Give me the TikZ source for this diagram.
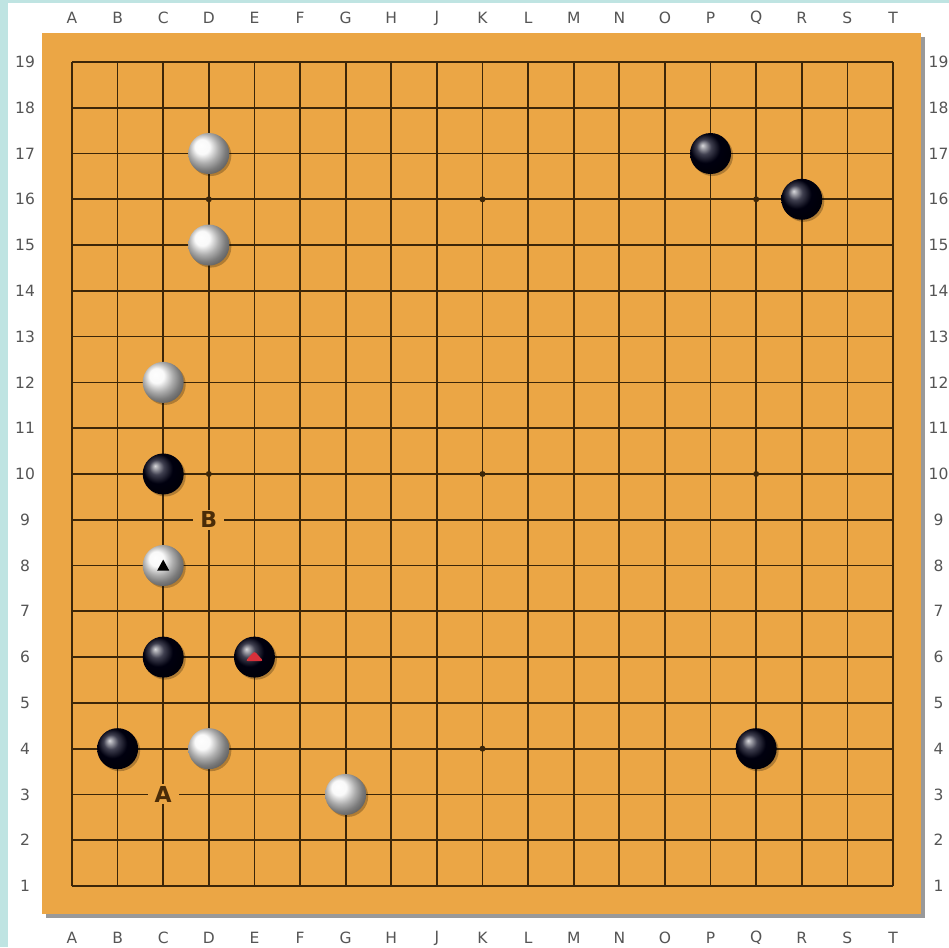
\documentclass[tikz,border=0pt]{standalone}
\usepackage{fontspec}
\setmainfont{DejaVu Sans}
\definecolor{bgcyan}{HTML}{BFE4E2}
\definecolor{boardc}{HTML}{EBA645}
\definecolor{gridc}{HTML}{3C2608}
\definecolor{labc}{HTML}{555555}
\definecolor{markc}{HTML}{4A2C08}
\definecolor{redmark}{HTML}{D8303A}
\tikzset{
  gridline/.style={gridc, line width=1.7pt},
  starpt/.style={circle, fill=gridc, inner sep=0pt, minimum size=6pt},
  bstone/.style={circle, inner sep=0pt, minimum size=41pt, shading=ball, ball color=black!88!blue!70!black},
  wstone/.style={circle, inner sep=0pt, minimum size=41pt, shading=ball, ball color=white!94!gray},
  stoneshadow/.style={circle, inner sep=0pt, minimum size=41pt, fill=black, opacity=0.25},
  collab/.style={text=labc, font=\fontsize{15.5}{15.5}\selectfont},
  boardlab/.style={text=markc, font=\bfseries\fontsize{22}{22}\selectfont, fill=boardc, inner xsep=7pt, inner ysep=2pt},
}
\begin{document}
\begin{tikzpicture}[x=1pt,y=-1pt]
\useasboundingbox (0,0) rectangle (949,947);
\fill[bgcyan] (0,0) rectangle (949,947);
\fill[white] (8,3) rectangle (949,947);
% board and shadow
\fill[black!40] (46,37) rectangle (925,918);
\fill[boardc] (42,33) rectangle (921,914);
\begin{scope}[shift={(72pt,-886pt)}, x=45.61pt, y=45.78pt]
  % grid
  \foreach \i in {0,...,18} {
    \draw[gridline] (\i,0) -- (\i,18);
    \draw[gridline] (0,\i) -- (18,\i);
  }
  % star points
  \foreach \c/\r [count=\k] in {3/3,9/3,15/3,3/9,9/9,15/9,3/15,9/15,15/15} {
    \node[starpt] (star\k) at (\c,\r) {};
  }
  % column and row labels
  \foreach \L [count=\k from 0] in {A,B,C,D,E,F,G,H,J,K,L,M,N,O,P,Q,R,S,T} {
    \node[collab] (top\L) at (\k,18.96) {\L};
    \node[collab] (bot\L) at (\k,-1.14) {\L};
  }
  \foreach \r in {1,...,19} {
    \node[collab] (left\r) at (-1.03,\r-1) {\r};
    \node[collab] (right\r) at (19.0,\r-1) {\r};
  }
  % stone shadows
  \foreach \c/\r in {3/16,3/14,2/11,2/7,3/3,6/2,14/16,16/15,2/9,2/5,4/5,1/3,15/3} {
    \node[stoneshadow] at ([shift={(2pt,-2pt)}]\c,\r) {};
  }
  % white stones
  \node[wstone] (wD17) at (3,16) {};
  \node[wstone] (wD15) at (3,14) {};
  \node[wstone] (wC12) at (2,11) {};
  \node[wstone] (wC8) at (2,7) {};
  \node[wstone] (wD4) at (3,3) {};
  \node[wstone] (wG3) at (6,2) {};
  % black stones
  \node[bstone] (bP17) at (14,16) {};
  \node[bstone] (bR16) at (16,15) {};
  \node[bstone] (bC10) at (2,9) {};
  \node[bstone] (bC6) at (2,5) {};
  \node[bstone] (bE6) at (4,5) {};
  \node[bstone] (bB4) at (1,3) {};
  \node[bstone] (bQ4) at (15,3) {};
  % markers
  \fill[black] ([shift={(-6pt,-5pt)}]wC8.center) -- ([shift={(6pt,-5pt)}]wC8.center) -- ([shift={(0pt,6pt)}]wC8.center) -- cycle;
  \fill[redmark, rounded corners=2.5pt] ([shift={(-9pt,-4pt)}]bE6.center) -- ([shift={(0pt,6pt)}]bE6.center) -- ([shift={(9pt,-4pt)}]bE6.center) -- cycle;
  % letters
  \node[boardlab] (labA) at (2,2) {A};
  \node[boardlab] (labB) at (3,8) {B};
\end{scope}
\end{tikzpicture}
\end{document}
